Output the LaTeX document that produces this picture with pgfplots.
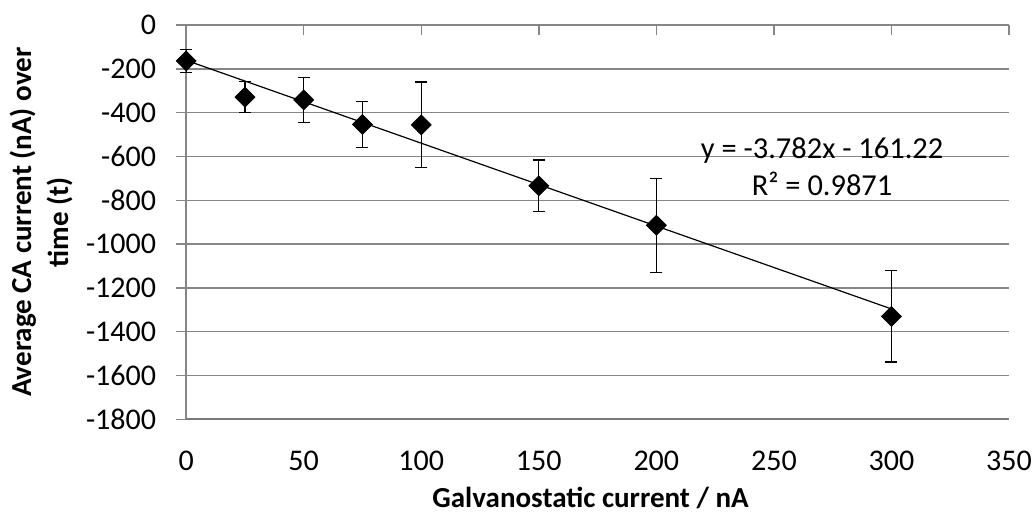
\documentclass[border=0pt]{standalone}
\usepackage{pgfplots}
\pgfplotsset{compat=1.18}
\usepackage{pgfplotstable}
\usepackage{fontspec}
\setmainfont{Carlito}
\definecolor{gridgray}{RGB}{134,134,134}
\pgfplotstableread{
x y e
0 -164 51
25 -329 72
50 -342 103
75 -454 104
100 -456 196
150 -734 118
200 -914 214
300 -1330 208
}\datatab
\begin{document}
\begin{tikzpicture}
\begin{axis}[
  width=411pt, height=197pt, scale only axis,
  xmin=0, xmax=350, ymin=-1800, ymax=0,
  xtick={0,50,100,150,200,250,300,350},
  xticklabels={0,50,100,150,200,250,300,350},
  ytick={-1800,-1600,-1400,-1200,-1000,-800,-600,-400,-200,0},
  yticklabels={-1800,-1600,-1400,-1200,-1000,-800,-600,-400,-200,0},
  axis x line=none,
  axis y line=left,
  axis line style={-, draw=gridgray, line width=0.7pt},
  ymajorgrids, grid style={gridgray, line width=0.7pt},
  tick align=outside, major tick length=5pt,
  ytick style={gridgray, line width=0.7pt},
  tick label style={font=\fontsize{15}{17}\selectfont, text=black},
  yticklabel style={xshift=-6.5pt},
  clip=false,
  ylabel={Average CA current (nA) over\\time (t)},
  ylabel style={font=\bfseries\fontsize{14.5}{18.5}\selectfont, align=center, at={(axis description cs:-0.1764,0.5)}, anchor=center},
]
\coordinate (ll) at (rel axis cs:0,0);
\coordinate (ur) at (rel axis cs:1,1);
\draw[gridgray!90!black, line width=1pt] (axis cs:0,-1800) -- (axis cs:350,-1800);
\pgfplotsinvokeforeach{50,100,150,200,250,300,350}{
  \draw[gridgray, line width=0.7pt] (axis cs:#1,0) -- ([yshift=-5pt]axis cs:#1,0);
}
\pgfplotsinvokeforeach{0,50,100,150,200,250,300,350}{
  \node[font=\fontsize{15}{17}\selectfont, anchor=center] at ([yshift=-20.5pt]axis cs:#1,-1800) {#1};
}
\node[font=\bfseries\fontsize{14.5}{17}\selectfont, anchor=center] at (axis description cs:0.4915,-0.198) {Galvanostatic current / nA};
\addplot[black, line width=0.6pt] coordinates {(0,-161.22) (300,-1295.82)};
\addplot[only marks, mark=square*, mark size=3.5pt, mark options={rotate=45, black},
  error bars/.cd, y dir=both, y explicit,
  error bar style={black, line width=0.6pt},
  error mark options={rotate=90, mark size=3pt, black, line width=0.6pt}]
  table[x=x, y=y, y error=e] {\datatab};
\node[align=center, font=\fontsize{15.2}{18.5}\selectfont] at (axis cs:270.5,-647) {y = -3.782x - 161.22\\R² = 0.9871};
\end{axis}
\pgfresetboundingbox
\path[use as bounding box] ([shift={(-93pt,-48.5pt)}]ll) rectangle ([shift={(13pt,12.5pt)}]ur);
\end{tikzpicture}
\end{document}
